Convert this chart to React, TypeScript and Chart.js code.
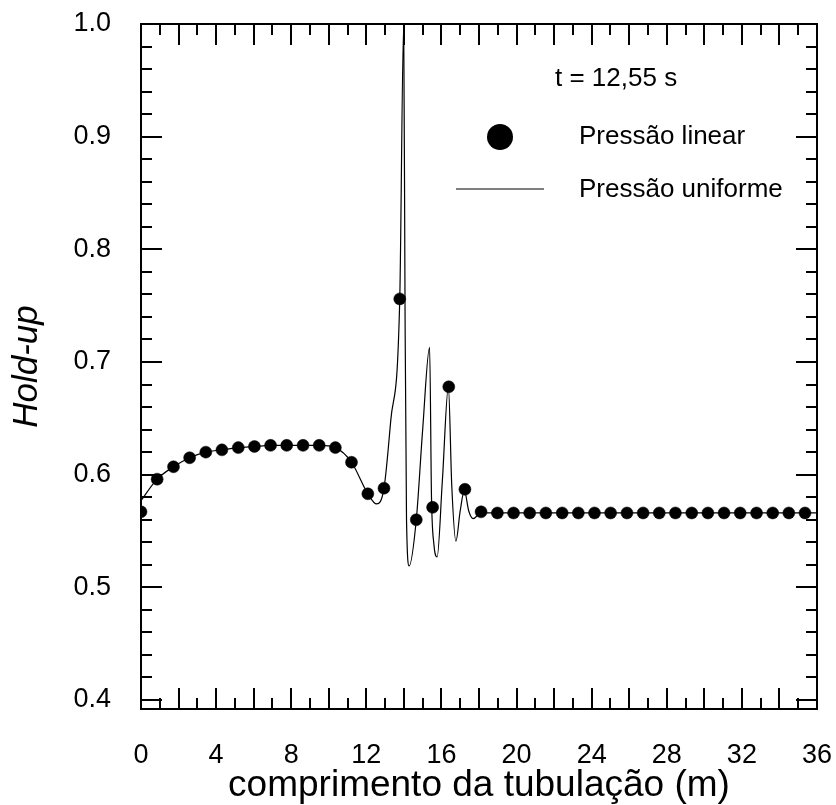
import React, { useEffect, useRef } from "react";
import { Chart, registerables } from "chart.js";

Chart.register(...registerables);

// ---- data ----
const pointX = [
  0, 0.86, 1.73, 2.59, 3.45, 4.31, 5.18, 6.04, 6.9, 7.76, 8.63, 9.49, 10.35, 11.21,
  12.08, 12.94, 13.78, 14.66, 15.53, 16.39, 17.25, 18.11, 18.98, 19.84, 20.7, 21.56,
  22.43, 23.29, 24.15, 25.01, 25.88, 26.74, 27.6, 28.46, 29.33, 30.19, 31.05, 31.91,
  32.78, 33.64, 34.5, 35.36,
];
const pointY = [
  0.567, 0.596, 0.607, 0.615, 0.62, 0.622, 0.624, 0.625, 0.626, 0.626, 0.626, 0.626,
  0.624, 0.611, 0.583, 0.588, 0.756, 0.56, 0.571, 0.678, 0.587, 0.567, 0.566, 0.566,
  0.566, 0.566, 0.566, 0.566, 0.566, 0.566, 0.566, 0.566, 0.566, 0.566, 0.566, 0.566,
  0.566, 0.566, 0.566, 0.566, 0.566, 0.566,
];
const lineX = [
  0, 0.86, 1.73, 2.59, 3.45, 4.31, 5.18, 6.04, 6.9, 7.76, 8.63, 9.49, 10.35, 11.21,
  12.08, 12.55, 12.94, 13.3, 13.78, 13.99, 14.06, 14.14, 14.28, 14.66, 15.0,
  15.37, 15.47, 15.6, 15.77, 16.05, 16.37, 16.55, 16.77, 17.0, 17.22, 17.45, 17.69,
  18.11, 36,
];
const lineY = [
  0.577, 0.596, 0.607, 0.615, 0.62, 0.622, 0.624, 0.625, 0.626, 0.626, 0.626, 0.626,
  0.624, 0.611, 0.583, 0.574, 0.588, 0.648, 0.756, 1.0, 0.75, 0.56, 0.519,
  0.56, 0.64, 0.713, 0.58, 0.538, 0.527, 0.595, 0.678, 0.59, 0.541, 0.568, 0.586,
  0.568, 0.561, 0.566, 0.566,
];
const xTickLabels = [0, 4, 8, 12, 16, 20, 24, 28, 32, 36];
const yTickLabels = [0.4, 0.5, 0.6, 0.7, 0.8, 0.9, 1.0];
const xMajorTicks = [0, 2, 4, 6, 8, 10, 12, 14, 16, 18, 20, 22, 24, 26, 28, 30, 32, 34, 36];
const xMinorTicks = [1, 3, 5, 7, 9, 11, 13, 15, 17, 19, 21, 23, 25, 27, 29, 31, 33, 35];
const yMajorTicks = [0.4, 0.5, 0.6, 0.7, 0.8, 0.9, 1.0];
const yMinorTicks = [
  0.42, 0.44, 0.46, 0.48, 0.52, 0.54, 0.56, 0.58, 0.62, 0.64, 0.66, 0.68,
  0.72, 0.74, 0.76, 0.78, 0.82, 0.84, 0.86, 0.88, 0.92, 0.94, 0.96, 0.98,
];
const timeLabel = "t = 12,55 s";
const seriesPointsName = "Pressão linear";
const seriesLineName = "Pressão uniforme";
const xTitle = "comprimento da tubulação (m)";
const yTitle = "Hold-up";

const FAMILY = "'Liberation Sans', Arial, Helvetica, sans-serif";

const framePlugin = {
  id: "frame",
  afterDatasetsDraw(chart: any) {
    const { ctx, chartArea } = chart;
    const xs = chart.scales.x;
    const ys = chart.scales.y;
    const { left, right, top, bottom } = chartArea;
    ctx.save();
    ctx.strokeStyle = "#000";
    ctx.lineWidth = 2;
    ctx.lineCap = "butt";
    ctx.strokeRect(left, top, right - left, bottom - top);
    const LONG = 21;
    const SHORT = 11;
    ctx.beginPath();
    const xt = (vals: number[], len: number) => {
      vals.forEach((v) => {
        const p = Math.round(xs.getPixelForValue(v));
        ctx.moveTo(p, bottom);
        ctx.lineTo(p, bottom - len);
        ctx.moveTo(p, top);
        ctx.lineTo(p, top + len);
      });
    };
    const yt = (vals: number[], len: number) => {
      vals.forEach((v) => {
        const p = Math.round(ys.getPixelForValue(v));
        ctx.moveTo(left, p);
        ctx.lineTo(left + len, p);
        ctx.moveTo(right, p);
        ctx.lineTo(right - len, p);
      });
    };
    xt(xMajorTicks, LONG);
    xt(xMinorTicks, SHORT);
    yt(yMajorTicks, LONG);
    yt(yMinorTicks, SHORT);
    ctx.stroke();

    // legend / annotation
    ctx.fillStyle = "#000";
    ctx.font = `26px ${FAMILY}`;
    ctx.textBaseline = "middle";
    ctx.textAlign = "left";
    ctx.fillText(timeLabel, 555, 79);
    ctx.beginPath();
    ctx.arc(500, 137, 13, 0, Math.PI * 2);
    ctx.fill();
    ctx.fillText(seriesPointsName, 579, 137);
    ctx.beginPath();
    ctx.lineWidth = 1.2;
    ctx.moveTo(456, 189);
    ctx.lineTo(544, 189);
    ctx.stroke();
    ctx.fillText(seriesLineName, 579, 190);
    ctx.restore();
  },
};

const zeroPad = (s: any) => {
  s.paddingLeft = 0;
  s.paddingRight = 0;
  s.paddingTop = 0;
  s.paddingBottom = 0;
};

export default function App() {
  const ref = useRef<HTMLCanvasElement | null>(null);
  useEffect(() => {
    document.body.style.margin = "0";
    const canvas = ref.current;
    if (!canvas) return;
    const chart = new Chart(canvas, {
      type: "scatter",
      data: {
        datasets: [
          {
            label: seriesLineName,
            data: lineX.map((x, i) => ({ x, y: lineY[i] })),
            showLine: true,
            borderColor: "#000",
            backgroundColor: "#000",
            borderWidth: 1.2,
            pointRadius: 0,
            cubicInterpolationMode: "monotone",
            order: 2,
          } as any,
          {
            label: seriesPointsName,
            data: pointX.map((x, i) => ({ x, y: pointY[i] })),
            showLine: false,
            pointRadius: 6,
            pointBorderWidth: 0.5,
            backgroundColor: "#000",
            borderColor: "#000",
            order: 1,
          } as any,
        ],
      },
      options: {
        animation: false,
        responsive: false,
        layout: { padding: { top: 24, right: 19, left: 0, bottom: 0 } },
        plugins: { legend: { display: false }, tooltip: { enabled: false } },
        scales: {
          x: {
            type: "linear",
            min: 0,
            max: 36,
            grid: { display: false },
            border: { display: false },
            afterBuildTicks: (s: any) => {
              s.ticks = xTickLabels.map((v) => ({ value: v }));
            },
            afterFit: (s: any) => {
              s.height = 96;
              zeroPad(s);
            },
            ticks: {
              padding: 22,
              color: "#000",
              autoSkip: false,
              maxRotation: 0,
              font: { size: 27, family: FAMILY, lineHeight: 1.2 },
              callback: (v: any) => String(v),
            },
            title: {
              display: true,
              text: xTitle,
              color: "#000",
              font: { size: 37, family: FAMILY, lineHeight: 1 },
              padding: { top: 0, bottom: 1 },
            },
          },
          y: {
            type: "linear",
            min: 0.392,
            max: 1.0,
            grid: { display: false },
            border: { display: false },
            afterBuildTicks: (s: any) => {
              s.ticks = yTickLabels.map((v) => ({ value: v }));
            },
            afterFit: (s: any) => {
              s.width = 141;
              zeroPad(s);
            },
            ticks: {
              padding: 22,
              color: "#000",
              autoSkip: false,
              font: { size: 27, family: FAMILY, lineHeight: 1.2 },
              callback: (v: any) => Number(v).toFixed(1),
            },
            title: {
              display: true,
              text: yTitle,
              color: "#000",
              font: { size: 35, family: FAMILY, style: "italic", lineHeight: 1 },
              padding: { top: 10, bottom: 0 },
            },
          },
        },
      } as any,
      plugins: [framePlugin],
    });
    return () => chart.destroy();
  }, []);
  return (
    <div style={{ position: "absolute", left: 0, top: 0, width: 836, height: 805 }}>
      <canvas ref={ref} width={836} height={805} style={{ display: "block" }} />
    </div>
  );
}
